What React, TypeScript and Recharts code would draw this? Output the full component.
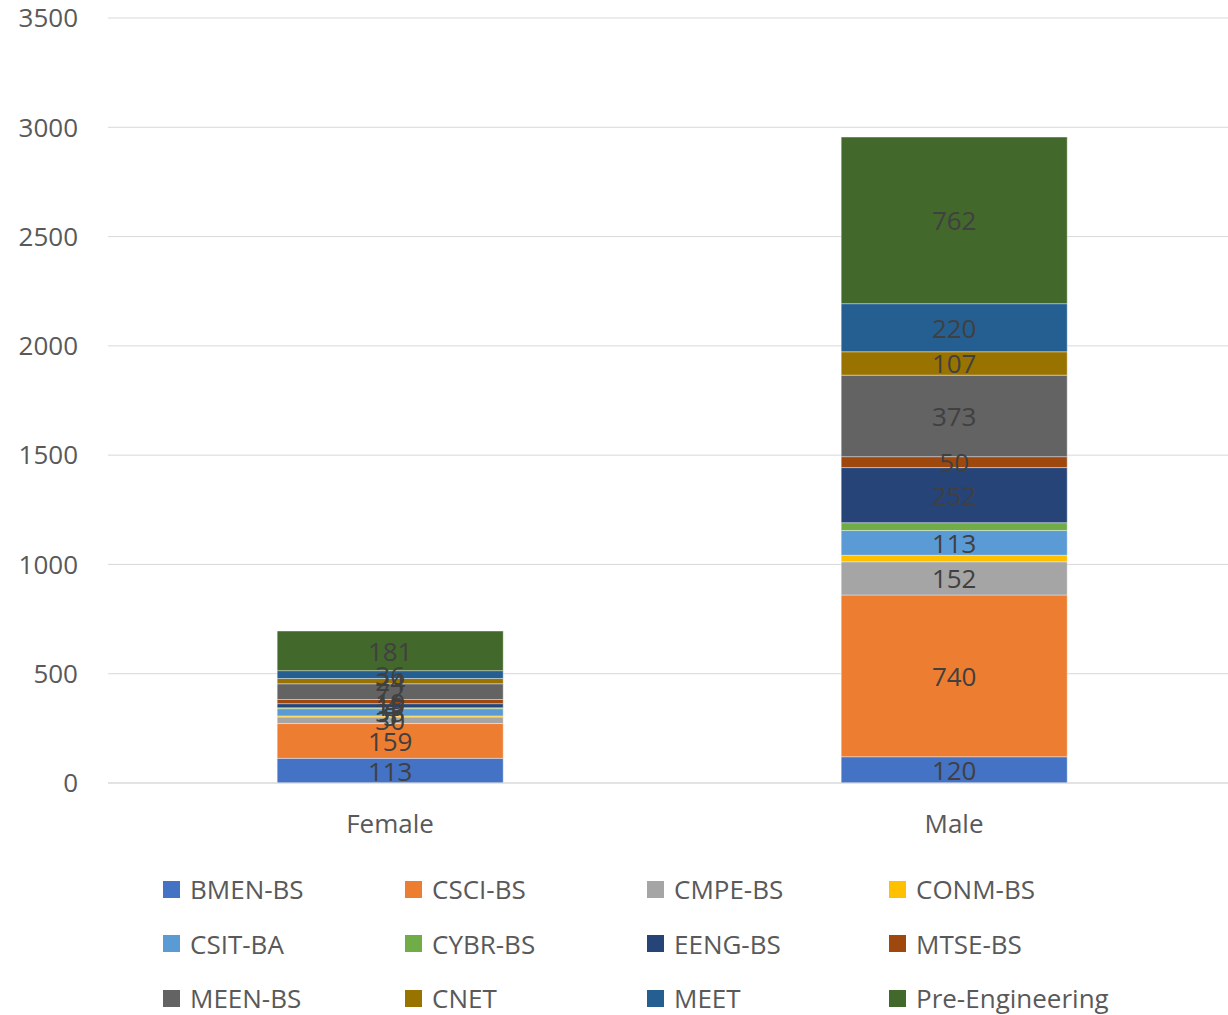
import { BarChart, Bar, XAxis, YAxis, CartesianGrid, LabelList } from "recharts";

const genders = ["Female", "Male"];
const programs = [
  "BMEN-BS", "CSCI-BS", "CMPE-BS", "CONM-BS", "CSIT-BA", "CYBR-BS",
  "EENG-BS", "MTSE-BS", "MEEN-BS", "CNET", "MEET", "Pre-Engineering",
];
const female = [113, 159, 30, 5, 33, 4, 19, 19, 72, 24, 36, 181];
const male = [120, 740, 152, 30, 113, 36, 252, 50, 373, 107, 220, 762];
const colors = [
  "#4472C4", "#ED7D31", "#A5A5A5", "#FFC000", "#5B9BD5", "#70AD47",
  "#264478", "#9E480E", "#636363", "#997300", "#255E91", "#43682B",
];
const yTicks = [0, 500, 1000, 1500, 2000, 2500, 3000, 3500];
// labels Excel left off on the male bar
const hiddenMale = ["CONM-BS", "CYBR-BS"];

const data = genders.map((g, i) => {
  const row: Record<string, string | number> = { name: g };
  programs.forEach((p, j) => {
    row[p] = i === 0 ? female[j] : male[j];
  });
  return row;
});

const font = "'Open Sans', sans-serif";

export default function App() {
  document.body.style.margin = "0";
  return (
    <div style={{ position: "relative", width: 1228, height: 1015, fontFamily: font, overflow: "hidden" }}>
      <BarChart
        width={1236}
        height={1015}
        data={data}
        margin={{ top: 18, right: 0, left: 0, bottom: 172 }}
        barCategoryGap="30%"
      >
        <CartesianGrid vertical={false} stroke="#d9d9d9" />
        <XAxis
          dataKey="name"
          axisLine={{ stroke: "#d9d9d9" }}
          tickLine={false}
          tickMargin={26}
          height={60}
          tick={{ fill: "#595959", fontSize: 26, fontFamily: font }}
        />
        <YAxis
          width={108}
          domain={[0, 3500]}
          ticks={yTicks}
          axisLine={false}
          tickLine={false}
          tickSize={0}
          tickMargin={30}
          tick={{ fill: "#595959", fontSize: 26, fontFamily: font }}
        />
        {programs.map((p, j) => (
          <Bar
            key={p}
            dataKey={p}
            stackId="a"
            fill={colors[j]}
            stroke="#ffffff"
            strokeOpacity={0.5}
            strokeWidth={0.75}
            isAnimationActive={false}
          >
            <LabelList
              dataKey={p}
              content={(props: any) => {
                const { x, y, width, height, value, index } = props;
                if (index === 1 && hiddenMale.includes(p)) return null;
                return (
                  <text
                    x={x + width / 2}
                    y={y + height / 2}
                    textAnchor="middle"
                    dominantBaseline="central"
                    fill="#404040"
                    fontSize={26}
                    fontFamily={font}
                  >
                    {value}
                  </text>
                );
              }}
            />
          </Bar>
        ))}
      </BarChart>
      <div style={{ position: "absolute", left: 163, top: 871, width: 1060 }}>
        {programs.map((p, j) => (
          <div
            key={p}
            style={{
              position: "absolute",
              left: (j % 4) * 242,
              top: Math.floor(j / 4) * 54.5,
              display: "flex",
              alignItems: "center",
              height: 36,
              whiteSpace: "nowrap",
            }}
          >
            <span style={{ width: 17, height: 17, background: colors[j], marginRight: 10 }} />
            <span style={{ fontSize: 26, color: "#595959" }}>{p}</span>
          </div>
        ))}
      </div>
    </div>
  );
}
